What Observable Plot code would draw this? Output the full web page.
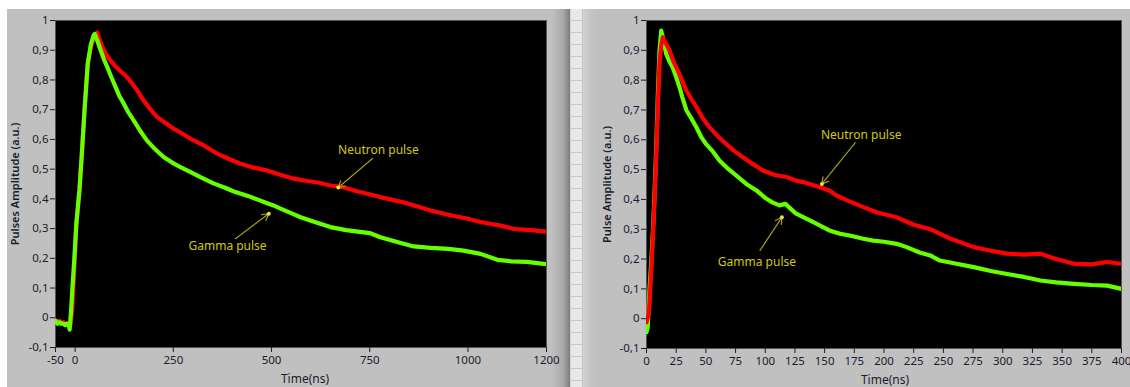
<!DOCTYPE html>
<html>
<head>
<meta charset="utf-8">
<script src="https://cdn.jsdelivr.net/npm/d3@7"></script>
<script src="https://cdn.jsdelivr.net/npm/@observablehq/plot@0.6"></script>
<style>
  html, body { margin: 0; padding: 0; background: #ffffff; }
  #wrap { position: relative; width: 1130px; height: 387px; overflow: hidden; background: #ffffff; }
  #panelL { position: absolute; left: 7px; top: 9px; width: 563px; height: 378px;
    background: linear-gradient(to right, #c0c0c0 0px, #c0c0c0 545px, #a9a9a9 556px, #7c7c7c 563px); }
  #sep { position: absolute; left: 570px; top: 9px; width: 13px; height: 378px; background-color: #e8e8e8;
    background-image: repeating-linear-gradient(to bottom, transparent 0px, transparent 11px, #c8c8c8 11px, #c8c8c8 12px);
    border-left: 1px solid #d4d4d4; border-right: 1px solid #c4c4c4; box-sizing: border-box; }
  #panelR { position: absolute; left: 583px; top: 9px; width: 547px; height: 378px;
    background: linear-gradient(to right, #d2d2d2 0px, #c6c6c6 7px, #c0c0c0 14px, #c0c0c0 100%); }
  .chart { position: absolute; top: 0px; }
  #chartL { left: 0px; }
  #chartR { left: 583px; }
</style>
</head>
<body>
<div id="wrap">
  <div id="panelL"></div>
  <div id="sep"></div>
  <div id="panelR"></div>
  <div id="chartL" class="chart"></div>
  <div id="chartR" class="chart"></div>
</div>
<script>
// ---------- data ----------
const yTicks = [-0.1, 0, 0.1, 0.2, 0.3, 0.4, 0.5, 0.6, 0.7, 0.8, 0.9, 1];
const leftXTicks = [-50, 0, 250, 500, 750, 1000, 1200];
const rightXTicks = [0, 25, 50, 75, 100, 125, 150, 175, 200, 225, 250, 275, 300, 325, 350, 375, 400];

// Left chart: neutron pulse (red)
const leftNeutronT = [-50,-45,-40,-35,-30,-25,-20,-16,-12,-8,-3,3,11,17,24,32,40,47,52,56,60,65,77,90,103,115,128,141,158,175,192,209,230,251,272,294,330,362,390,421,455,489,520,557,590,618,650,680,720,777,830,870,905,955,1000,1032,1083,1120,1160,1200];
const leftNeutronV = [-0.01,-0.015,-0.01,-0.02,-0.015,-0.02,-0.02,-0.025,-0.025,0.02,0.14,0.31,0.43,0.55,0.70,0.85,0.91,0.94,0.95,0.96,0.945,0.925,0.89,0.865,0.845,0.83,0.815,0.795,0.765,0.73,0.70,0.675,0.655,0.636,0.62,0.602,0.578,0.552,0.535,0.518,0.505,0.495,0.482,0.468,0.46,0.455,0.445,0.44,0.425,0.406,0.39,0.375,0.361,0.345,0.333,0.322,0.31,0.298,0.295,0.29];

// Left chart: gamma pulse (green)
const leftGammaT = [-50,-45,-40,-35,-30,-25,-20,-16,-14,-10,-7,-2,3,11,17,24,32,40,47,50,57,65,73,82,92,103,113,124,136,149,165,183,205,226,247,268,294,319,352,380,404,440,470,489,505,523,550,574,610,650,690,720,750,777,820,862,905,950,989,1032,1075,1110,1150,1200];
const leftGammaV = [-0.01,-0.02,-0.015,-0.02,-0.02,-0.025,-0.02,-0.025,-0.04,0.03,0.10,0.20,0.316,0.43,0.55,0.70,0.854,0.92,0.95,0.955,0.93,0.90,0.87,0.843,0.81,0.776,0.745,0.72,0.69,0.664,0.63,0.596,0.565,0.54,0.522,0.507,0.49,0.473,0.452,0.438,0.425,0.41,0.395,0.385,0.378,0.367,0.352,0.338,0.322,0.305,0.295,0.29,0.285,0.271,0.255,0.24,0.235,0.232,0.226,0.215,0.195,0.19,0.188,0.18];

// Right chart: neutron pulse (red)
const rightNeutronT = [0,1.5,2.5,4,5.3,6.8,8.2,9.6,11,12.5,13.8,16,19.4,23,27.8,33.5,38,42,47,53,60,67,74,81,89,98,108,118,126,132,140,146,154,160,170,182.6,195,210.7,225,239,255,275.5,290,303.6,318,331.7,345,360,375,388,400];
const rightNeutronV = [-0.012,0.01,0.05,0.16,0.27,0.40,0.55,0.72,0.86,0.92,0.944,0.925,0.9,0.86,0.82,0.765,0.735,0.71,0.675,0.642,0.612,0.586,0.562,0.542,0.52,0.497,0.482,0.475,0.463,0.458,0.448,0.441,0.43,0.413,0.395,0.374,0.355,0.34,0.315,0.30,0.27,0.24,0.228,0.218,0.215,0.218,0.2,0.184,0.182,0.19,0.184];

// Right chart: gamma pulse (green)
const rightGammaT = [0,1,2.5,4,5.3,6.8,8.2,9.6,11,12.4,14,16.6,19,22,25,27.8,30,33.5,38,42,46,50,56,61.6,68,75.7,84,92.6,100,106,112,117,121,126,135,145,154,163,172,182.6,191,200,210.7,219,230,239,247,260,275.5,290,303.6,318,331.7,345,360,375,388,400];
const rightGammaV = [-0.045,-0.03,0.095,0.19,0.285,0.42,0.575,0.754,0.9,0.966,0.94,0.888,0.865,0.843,0.81,0.776,0.745,0.70,0.67,0.642,0.61,0.586,0.56,0.53,0.505,0.48,0.452,0.43,0.405,0.39,0.38,0.385,0.37,0.352,0.335,0.315,0.296,0.285,0.278,0.268,0.262,0.258,0.251,0.24,0.222,0.212,0.195,0.185,0.173,0.16,0.15,0.14,0.128,0.122,0.117,0.113,0.111,0.10];

// Annotations: label, text position, arrow start, arrow tip (data units)
const leftNotes = [
  {label: "Neutron pulse", tx: 772, ty: 0.563, x1: 757, y1: 0.536, x2: 670, y2: 0.438},
  {label: "Gamma pulse",   tx: 388, ty: 0.2415, x1: 408, y1: 0.266, x2: 493, y2: 0.35}
];
const rightNotes = [
  {label: "Neutron pulse", tx: 180.8, ty: 0.615, x1: 175.7, y1: 0.59, x2: 147.7, y2: 0.452},
  {label: "Gamma pulse",   tx: 93, ty: 0.19, x1: 95.6, y1: 0.229, x2: 114, y2: 0.34}
];

const yTitleLeft = "Pulses Amplitude (a.u.)";
const yTitleRight = "Pulse Amplitude (a.u.)";
const xTitle = "Time(ns)";

// ---------- drawing ----------
const RED = "#ff0000", GREEN = "#66ff00";
const NOTE_TEXT = "#d2c61a", NOTE_ARROW = "#a39c10";
const fmtY = d => d3.format(".1~f")(d).replace(".", ",").replace("\u2212", "-");
const fmtX = d => String(d);
const rows = (T, V) => T.map((t, i) => ({t, v: V[i]}));

function makeChart({width, marginLeft, marginRight, marginBottom, xDomain, xTicks, series, notes, yTitle, yTitleDx, xTitleDx}) {
  return Plot.plot({
    width, height: 387,
    marginLeft, marginRight, marginTop: 20, marginBottom,
    style: {background: "transparent", fontFamily: "'Noto Sans', 'DejaVu Sans', sans-serif", fontSize: "11px", color: "#1c1c2c", overflow: "visible"},
    x: {domain: xDomain},
    y: {domain: [-0.1, 1]},
    marks: [
      Plot.frame({fill: "#000000", stroke: "#555555"}),
      ...series.map(s => Plot.line(rows(s.T, s.V), {x: "t", y: "v", stroke: s.color, strokeWidth: 4.2, strokeLinejoin: "round", clip: true})),
      Plot.axisY({ticks: yTicks, tickFormat: fmtY, tickSize: 5, tickPadding: 2, label: null, fontSize: 11.5}),
      Plot.axisX({ticks: xTicks, tickFormat: fmtX, tickSize: 5, tickPadding: 3, label: null, fontSize: 11.5}),
      Plot.arrow(notes, {x1: "x1", y1: "y1", x2: "x2", y2: "y2", stroke: NOTE_ARROW, strokeWidth: 1.2, headLength: 9, bend: 0}),
      Plot.dot(notes, {x: "x2", y: "y2", r: 2, fill: "#e8e040"}),
      Plot.text(notes, {x: "tx", y: "ty", text: "label", fill: NOTE_TEXT, fontSize: 12, textAnchor: "middle"}),
      Plot.text([yTitle], {text: d => d, frameAnchor: "left", rotate: -90, dx: yTitleDx, fontSize: 11, fontWeight: 600, fill: "#1c1c2c", textAnchor: "middle", lineAnchor: "middle"}),
      Plot.text([xTitle], {text: d => d, frameAnchor: "bottom", dy: 32, dx: xTitleDx, fontSize: 12, fill: "#1c1c2c", textAnchor: "middle", lineAnchor: "middle"})
    ]
  });
}

document.getElementById("chartL").append(makeChart({
  width: 560, marginLeft: 55, marginRight: 14, marginBottom: 40,
  xDomain: [-50, 1200], xTicks: leftXTicks,
  series: [
    {T: leftNeutronT, V: leftNeutronV, color: RED},
    {T: leftGammaT, V: leftGammaV, color: GREEN}
  ],
  notes: leftNotes, yTitle: yTitleLeft, yTitleDx: -40, xTitleDx: 4
}));

document.getElementById("chartR").append(makeChart({
  width: 547, marginLeft: 63, marginRight: 9, marginBottom: 39,
  xDomain: [0, 400], xTicks: rightXTicks,
  series: [
    {T: rightGammaT, V: rightGammaV, color: GREEN},
    {T: rightNeutronT, V: rightNeutronV, color: RED}
  ],
  notes: rightNotes, yTitle: yTitleRight, yTitleDx: -39, xTitleDx: 1
}));
</script>
</body>
</html>
